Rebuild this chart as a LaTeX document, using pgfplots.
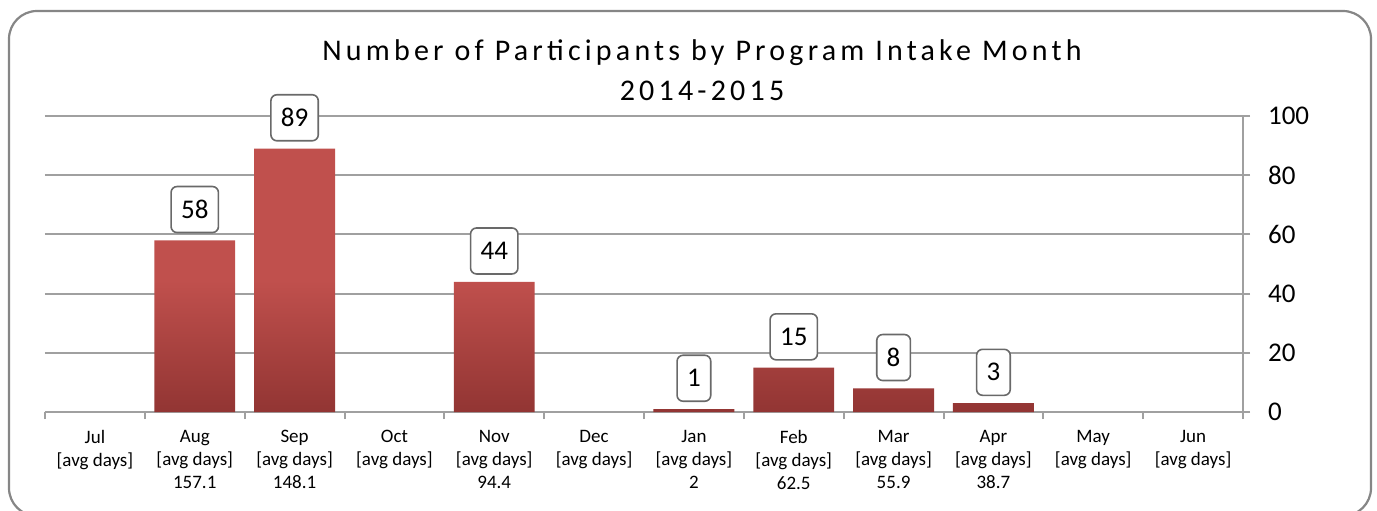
\documentclass[border=0pt]{standalone}
\usepackage{fontspec}
\setmainfont{Carlito}
\newfontfamily\titlefont[LetterSpace=14]{Carlito}
\usepackage{pgfplots}
\pgfplotsset{compat=1.18}
\definecolor{barTop}{RGB}{192,80,77}
\definecolor{barBot}{RGB}{146,53,51}
\definecolor{gridgray}{RGB}{160,160,160}
\definecolor{boxgray}{RGB}{105,105,105}
\definecolor{bordergray}{RGB}{134,134,134}
\newcommand{\ad}{{[}avg days{]}}
\begin{document}
\begin{tikzpicture}
\useasboundingbox (0,0) rectangle (688.5pt,-255pt);
\begin{scope}[x=0.5pt,y=-0.5pt]
\begin{scope}
\clip (0,0) rectangle (1377,510);
\draw[bordergray, line width=1.1pt, rounded corners=14pt, fill=white] (9,11) rectangle (1371,516);
\end{scope}
\node[font=\titlefont\fontsize{15}{20}\selectfont, align=center, text=black] at (702,70) {Number of Participants by Program Intake Month\\2014-2015};
\end{scope}
\begin{axis}[
  at={(22.5pt,-206pt)}, anchor=south west,
  scale only axis, width=599pt, height=148pt,
  xmin=-0.5, xmax=11.5, ymin=0, ymax=100,
  clip=false,
  /pgf/number format/assume math mode=true,
  axis x line*=bottom, axis y line*=right,
  axis line style={gridgray, line width=1pt},
  ytick={0,20,...,100},
  ymajorgrids, major grid style={gridgray, line width=1pt},
  tick align=outside, major tick length=3.5pt, minor tick length=3.5pt,
  every major x tick/.style={draw=none},
  every minor x tick/.style={gridgray, line width=1pt},
  every major y tick/.style={gridgray, line width=1pt},
  xtick={0,...,11},
  minor xtick={-0.5,0.5,...,11.5},
  xticklabels={{Jul\\\ad},{Aug\\\ad\\157.1},{Sep\\\ad\\148.1},{Oct\\\ad},{Nov\\\ad\\94.4},{Dec\\\ad},{Jan\\\ad\\2},{Feb\\\ad\\62.5},{Mar\\\ad\\55.9},{Apr\\\ad\\38.7},{May\\\ad},{Jun\\\ad}},
  xticklabel style={align=center, font=\fontsize{9.5}{11.5}\selectfont, text=black, yshift=-2pt},
  yticklabel style={font=\fontsize{13.5}{15}\selectfont, text=black, anchor=west, xshift=5.5pt},
  nodes near coords,
  every node near coord/.append style={draw=boxgray, fill=white, rounded corners=3pt, line width=0.8pt, inner xsep=5pt, minimum height=23pt, font=\fontsize{13.5}{15}\selectfont, text=black, anchor=south, yshift=3.5pt},
]
\addplot[ybar, bar width=0.81, draw=none, top color=barTop, bottom color=barBot, middle color=barTop] coordinates {
(1,58) (2,89) (4,44) (6,1) (7,15) (8,8) (9,3)
};
\end{axis}
\end{tikzpicture}
\end{document}
